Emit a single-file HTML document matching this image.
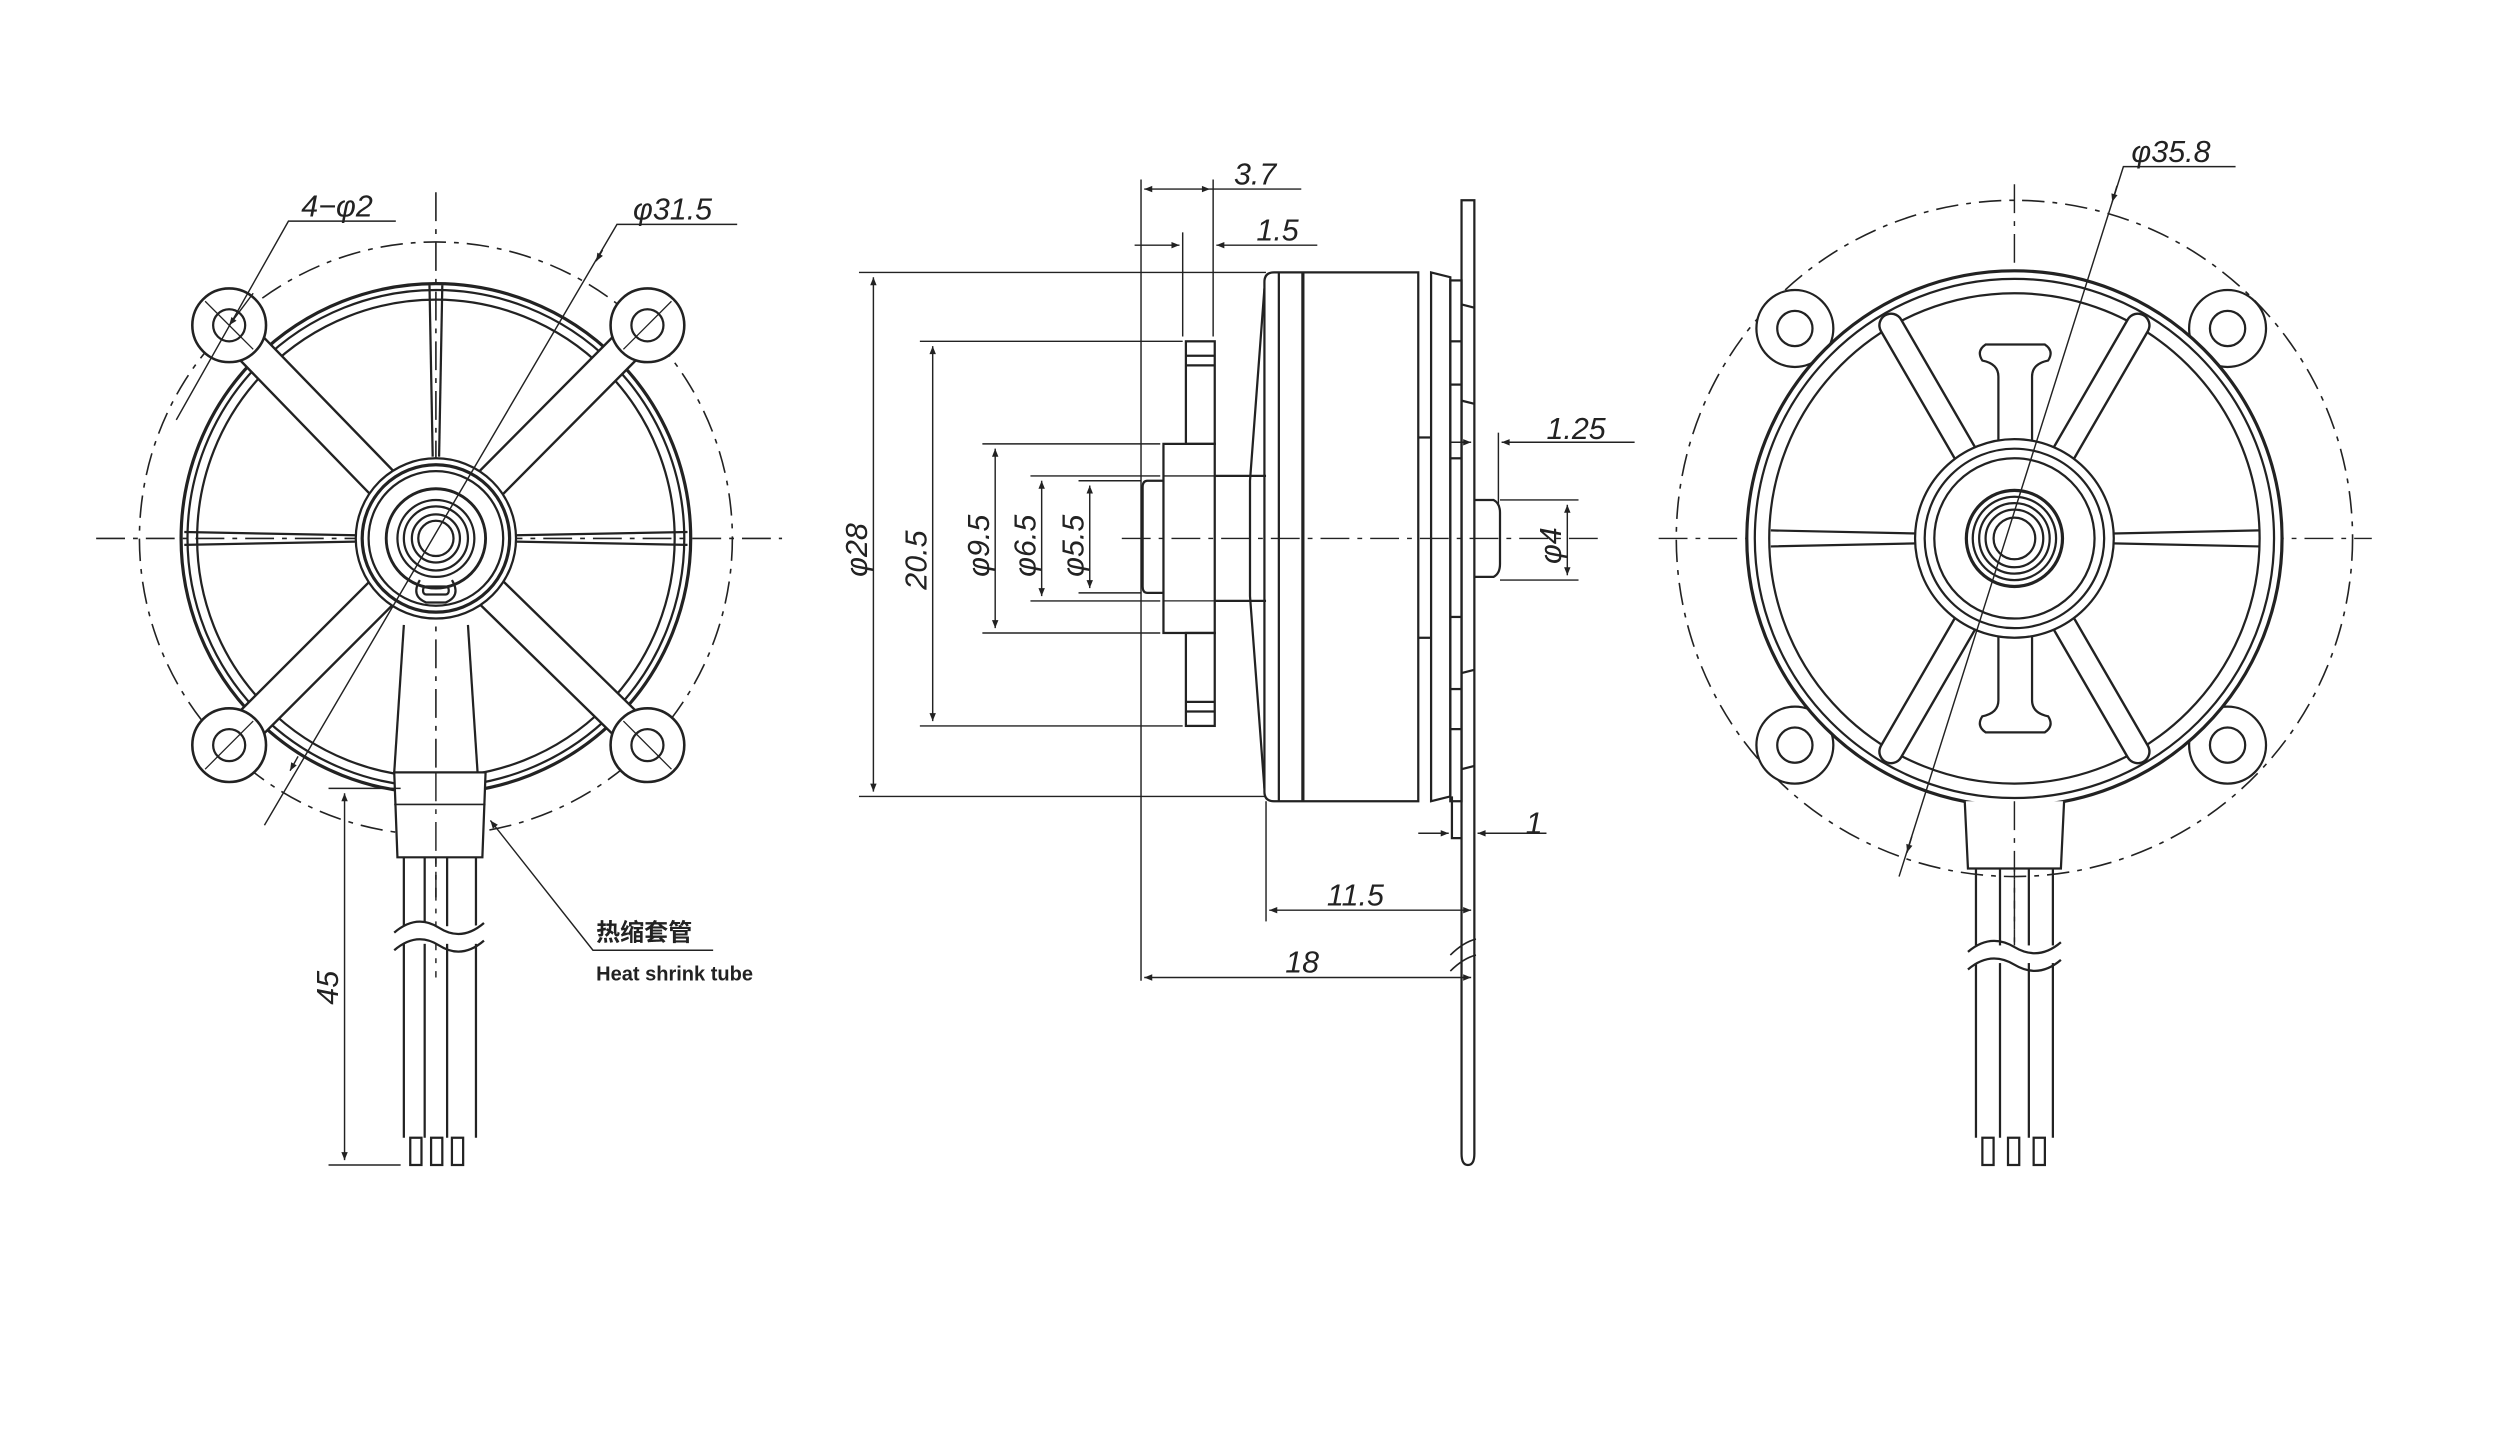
<!DOCTYPE html>
<html><head><meta charset="utf-8"><style>
html,body{margin:0;padding:0;background:#fff;}
svg{display:block;}
text{font-family:"Liberation Sans",sans-serif;font-style:italic;fill:#222;}
</style></head><body>
<svg width="2500" height="1439" viewBox="0 0 1560 898" preserveAspectRatio="none" xmlns="http://www.w3.org/2000/svg">
<defs>
<marker id="a" viewBox="0 0 10 10" refX="10" refY="5" markerWidth="9" markerHeight="5" orient="auto-start-reverse" markerUnits="userSpaceOnUse"><path d="M0,1 L10,5 L0,9z" fill="#222"/></marker>
</defs>
<g fill="none" stroke="#222" stroke-width="1.4">

<!-- ================= LEFT VIEW ================= -->
<g>
<circle cx="272" cy="336" r="185" stroke-dasharray="14 5 3 5" stroke-width="1"/>
<line x1="60" y1="336" x2="488" y2="336" stroke-dasharray="18 5 3 5" stroke-width="1"/>
<line x1="272" y1="120" x2="272" y2="560" stroke-dasharray="18 5 3 5" stroke-width="1"/>
<!-- frame ring -->
<circle cx="272" cy="336" r="159" stroke-width="2"/>
<circle cx="272" cy="336" r="155"/>
<circle cx="272" cy="336" r="149"/>
<!-- spokes (outline technique) -->
<g stroke-linecap="round">
<g stroke="#222" stroke-width="22">
<line x1="272" y1="336" x2="143" y2="203"/><line x1="272" y1="336" x2="404" y2="203"/>
<line x1="272" y1="336" x2="143" y2="465"/><line x1="272" y1="336" x2="404" y2="465"/>
</g>
<g stroke="#fff" stroke-width="19">
<line x1="272" y1="336" x2="143" y2="203"/><line x1="272" y1="336" x2="404" y2="203"/>
<line x1="272" y1="336" x2="143" y2="465"/><line x1="272" y1="336" x2="404" y2="465"/>
</g>
</g>
<!-- radial thin spokes -->
<line x1="268" y1="178" x2="270" y2="285"/><line x1="276" y1="178" x2="274" y2="285"/>
<line x1="115" y1="332" x2="222" y2="334"/><line x1="115" y1="340" x2="222" y2="338"/>
<line x1="429" y1="332" x2="322" y2="334"/><line x1="429" y1="340" x2="322" y2="338"/>
<line x1="246" y1="482" x2="252" y2="390"/><line x1="298" y1="482" x2="292" y2="390"/>
<!-- ears -->
<g fill="#fff" stroke-width="1.6">
<circle cx="143" cy="203" r="23"/><circle cx="404" cy="203" r="23"/>
<circle cx="143" cy="465" r="23"/><circle cx="404" cy="465" r="23"/>
</g>
<circle cx="143" cy="203" r="10"/><circle cx="404" cy="203" r="10"/>
<circle cx="143" cy="465" r="10"/><circle cx="404" cy="465" r="10"/>
<g stroke-width="0.8"><line x1="128" y1="188" x2="158" y2="218"/><line x1="389" y1="218" x2="419" y2="188"/><line x1="128" y1="480" x2="158" y2="450"/><line x1="389" y1="450" x2="419" y2="480"/></g>
<!-- hub -->
<circle cx="272" cy="336" r="50" fill="#fff"/>
<circle cx="272" cy="336" r="46" stroke-width="2"/>
<circle cx="272" cy="336" r="42"/>
<circle cx="272" cy="336" r="31" stroke-width="1.8"/>
<circle cx="272" cy="336" r="24"/>
<circle cx="272" cy="336" r="20"/>
<circle cx="272" cy="336" r="15"/>
<circle cx="272" cy="336" r="11"/>
<path d="M262,362 q-6,10 4,14 h12 q10,-4 4,-14" />
<rect x="264" y="366" width="16" height="5" rx="2"/>
<!-- cable tube -->
<path d="M246,482 L248,535 L301,535 L303,482 Z" fill="#fff"/>
<line x1="246" y1="502" x2="303" y2="502" stroke-width="1"/>
<line x1="272" y1="482" x2="272" y2="610" stroke-dasharray="18 5 3 5" stroke-width="0.9"/>
<!-- wires -->
<line x1="252" y1="535" x2="252" y2="710"/>
<line x1="265" y1="535" x2="265" y2="710"/>
<line x1="279" y1="535" x2="279" y2="710"/>
<line x1="297" y1="535" x2="297" y2="710"/>
<path d="M246,583 q14,-12 28,-4 t28,-2" fill="#fff" stroke="none" />
<rect x="246" y="578" width="58" height="11" fill="#fff" stroke="none"/>
<path d="M246,582 q14,-12 28,-3 t28,-3"/>
<path d="M246,593 q14,-12 28,-3 t28,-3"/>
<rect x="256" y="710" width="7" height="17"/><rect x="269" y="710" width="7" height="17"/><rect x="282" y="710" width="7" height="17"/>
<!-- 45 dim -->
<line x1="205" y1="492" x2="250" y2="492" stroke-width="0.9"/>
<line x1="205" y1="727" x2="250" y2="727" stroke-width="0.9"/>
<line x1="215" y1="495" x2="215" y2="724" stroke-width="0.9" marker-start="url(#a)" marker-end="url(#a)"/>
<!-- labels leaders -->
<polyline points="247,138 180,138 110,262" stroke-width="0.9"/>
<line x1="158" y1="183" x2="143" y2="203" stroke-width="0.9" marker-end="url(#a)"/>
<polyline points="460,140 385,140 165,515" stroke-width="0.9"/>
<line x1="376" y1="156" x2="372" y2="163" marker-end="url(#a)" stroke-width="0.9"/>
<line x1="186" y1="472" x2="181" y2="481" marker-end="url(#a)" stroke-width="0.9"/>
<polyline points="445,593 370,593 306,512" stroke-width="0.9" marker-end="url(#a)"/>
</g>
</g>

<!-- ================= MIDDLE VIEW ================= -->
<g fill="none" stroke="#222" stroke-width="1.4">
<line x1="700" y1="336" x2="1000" y2="336" stroke-dasharray="18 5 3 5" stroke-width="0.9"/>
<!-- shaft tip -->
<path d="M726,300 H716 q-3,0 -3,4 V366 q0,4 3,4 H726"/>
<!-- hub -->
<rect x="726" y="277" width="32" height="118"/>
<line x1="726" y1="297" x2="758" y2="297" stroke-width="0.8"/>
<line x1="726" y1="375" x2="758" y2="375" stroke-width="0.8"/>
<!-- flange -->
<rect x="740" y="213" width="18" height="64"/>
<rect x="740" y="395" width="18" height="58"/>
<line x1="740" y1="222" x2="758" y2="222"/><line x1="740" y1="228" x2="758" y2="228"/>
<line x1="740" y1="444" x2="758" y2="444"/><line x1="740" y1="438" x2="758" y2="438"/>
<!-- neck -->
<line x1="758" y1="297" x2="790" y2="297"/><line x1="758" y1="375" x2="790" y2="375"/>
<!-- bell -->
<path d="M795,170 H885 V500 H795 q-6,0 -6,-6 V176 q0,-6 6,-6z"/>
<path d="M789,180 L780,300 V372 L789,492"/>
<line x1="798" y1="170" x2="798" y2="500"/>
<line x1="813" y1="170" x2="813" y2="500" stroke-width="2"/>
<!-- base -->
<path d="M893,170 L905,173 V497 L893,500 Z"/>
<line x1="885" y1="273" x2="893" y2="273"/><line x1="885" y1="398" x2="893" y2="398"/>
<rect x="905" y="175" width="7" height="325"/>
<!-- mount plate -->
<path d="M912,125 H920 V720 q0,7 -4,7 q-4,0 -4,-7 Z"/>
<line x1="912" y1="190" x2="920" y2="192"/><line x1="912" y1="250" x2="920" y2="252"/>
<line x1="912" y1="420" x2="920" y2="418"/><line x1="912" y1="480" x2="920" y2="478"/>
<line x1="905" y1="213" x2="912" y2="213"/><line x1="905" y1="240" x2="912" y2="240"/>
<line x1="905" y1="286" x2="912" y2="286"/><line x1="905" y1="385" x2="912" y2="385"/>
<line x1="905" y1="430" x2="912" y2="430"/><line x1="905" y1="455" x2="912" y2="455"/>
<!-- back shaft -->
<path d="M920,312 H932 q4,2 4,8 V352 q0,6 -4,8 H920"/>
<!-- wire stub on plate -->
<path d="M906,497 V523 H912"/>
<path d="M905,596 q8,-8 16,-10 M905,606 q8,-8 16,-10" stroke-width="1"/>
<!-- dims -->
<g stroke-width="0.9">
<line x1="712" y1="112" x2="712" y2="612"/>
<line x1="757" y1="112" x2="757" y2="210"/>
<line x1="738" y1="145" x2="738" y2="210"/>
<line x1="714" y1="118" x2="755" y2="118" marker-start="url(#a)" marker-end="url(#a)"/>
<line x1="755" y1="118" x2="812" y2="118"/>
<line x1="708" y1="153" x2="736" y2="153" marker-end="url(#a)"/>
<line x1="822" y1="153" x2="759" y2="153" marker-end="url(#a)"/>
<line x1="536" y1="170" x2="790" y2="170"/><line x1="536" y1="497" x2="790" y2="497"/>
<line x1="545" y1="173" x2="545" y2="494" marker-start="url(#a)" marker-end="url(#a)"/>
<line x1="574" y1="213" x2="738" y2="213"/><line x1="574" y1="453" x2="738" y2="453"/>
<line x1="582" y1="216" x2="582" y2="450" marker-start="url(#a)" marker-end="url(#a)"/>
<line x1="613" y1="277" x2="724" y2="277"/><line x1="613" y1="395" x2="724" y2="395"/>
<line x1="621" y1="280" x2="621" y2="392" marker-start="url(#a)" marker-end="url(#a)"/>
<line x1="643" y1="297" x2="724" y2="297"/><line x1="643" y1="375" x2="724" y2="375"/>
<line x1="650" y1="300" x2="650" y2="372" marker-start="url(#a)" marker-end="url(#a)"/>
<line x1="673" y1="300" x2="712" y2="300"/><line x1="673" y1="370" x2="712" y2="370"/>
<line x1="680" y1="303" x2="680" y2="367" marker-start="url(#a)" marker-end="url(#a)"/>
<line x1="935" y1="270" x2="935" y2="315"/>
<line x1="905" y1="276" x2="918" y2="276" marker-end="url(#a)"/>
<line x1="1020" y1="276" x2="937" y2="276" marker-end="url(#a)"/>
<line x1="936" y1="312" x2="985" y2="312"/><line x1="936" y1="362" x2="985" y2="362"/>
<line x1="978" y1="315" x2="978" y2="359" marker-start="url(#a)" marker-end="url(#a)"/>
<line x1="885" y1="520" x2="904" y2="520" marker-end="url(#a)"/>
<line x1="965" y1="520" x2="922" y2="520" marker-end="url(#a)"/>
<line x1="790" y1="500" x2="790" y2="575"/>
<line x1="792" y1="568" x2="918" y2="568" marker-start="url(#a)" marker-end="url(#a)"/>
<line x1="714" y1="610" x2="918" y2="610" marker-start="url(#a)" marker-end="url(#a)"/>
</g>
</g>

<!-- ================= RIGHT VIEW ================= -->
<g fill="none" stroke="#222" stroke-width="1.4">
<circle cx="1257" cy="336" r="211" stroke-dasharray="14 5 3 5" stroke-width="1"/>
<line x1="1035" y1="336" x2="1480" y2="336" stroke-dasharray="18 5 3 5" stroke-width="0.9"/>
<line x1="1257" y1="115" x2="1257" y2="600" stroke-dasharray="18 5 3 5" stroke-width="0.9"/>
<!-- ears -->
<g fill="#fff"><circle cx="1120" cy="205" r="24"/><circle cx="1390" cy="205" r="24"/><circle cx="1120" cy="465" r="24"/><circle cx="1390" cy="465" r="24"/></g>
<circle cx="1120" cy="205" r="11"/><circle cx="1390" cy="205" r="11"/><circle cx="1120" cy="465" r="11"/><circle cx="1390" cy="465" r="11"/>
<!-- frame -->
<circle cx="1257" cy="336" r="167" fill="#fff" stroke-width="2"/>
<circle cx="1257" cy="336" r="162"/>
<circle cx="1257" cy="336" r="153"/>
<!-- spokes -->
<g stroke-linecap="round">
<g stroke="#222" stroke-width="16">
<line x1="1257" y1="336" x2="1180" y2="203"/><line x1="1257" y1="336" x2="1334" y2="203"/>
<line x1="1257" y1="336" x2="1180" y2="469"/><line x1="1257" y1="336" x2="1334" y2="469"/>
</g>
<g stroke="#fff" stroke-width="13">
<line x1="1257" y1="336" x2="1180" y2="203"/><line x1="1257" y1="336" x2="1334" y2="203"/>
<line x1="1257" y1="336" x2="1180" y2="469"/><line x1="1257" y1="336" x2="1334" y2="469"/>
</g>
</g>
<path d="M1105,331 L1200,333 M1105,341 L1200,339 M1410,331 L1315,333 M1410,341 L1315,339"/>
<!-- I beams -->
<path d="M1247,290 V235 q0,-8 -10,-10 q-4,-6 2,-10 H1276 q6,4 2,10 q-10,2 -10,10 V290 Z" fill="#fff"/>
<path d="M1247,382 V437 q0,8 -10,10 q-4,6 2,10 H1276 q6,-4 2,-10 q-10,-2 -10,-10 V382 Z" fill="#fff"/>
<!-- hub -->
<circle cx="1257" cy="336" r="62" fill="#fff"/>
<circle cx="1257" cy="336" r="56"/>
<circle cx="1257" cy="336" r="50" fill="#fff"/>
<circle cx="1257" cy="336" r="30" stroke-width="2"/>
<circle cx="1257" cy="336" r="26"/>
<circle cx="1257" cy="336" r="22"/>
<circle cx="1257" cy="336" r="18"/>
<circle cx="1257" cy="336" r="13"/>
<!-- tube -->
<path d="M1226,500 L1228,542 H1286 L1288,500" fill="#fff"/>
<line x1="1257" y1="500" x2="1257" y2="600" stroke-dasharray="18 5 3 5" stroke-width="0.9"/>
<line x1="1233" y1="542" x2="1233" y2="710"/><line x1="1248" y1="542" x2="1248" y2="710"/>
<line x1="1266" y1="542" x2="1266" y2="710"/><line x1="1281" y1="542" x2="1281" y2="710"/>
<rect x="1228" y="590" width="58" height="11" fill="#fff" stroke="none"/>
<path d="M1228,594 q14,-12 29,-3 t29,-3"/>
<path d="M1228,605 q14,-12 29,-3 t29,-3"/>
<rect x="1237" y="710" width="7" height="17"/><rect x="1253" y="710" width="7" height="17"/><rect x="1269" y="710" width="7" height="17"/>
<!-- dim -->
<polyline points="1395,104 1325,104 1185,547" stroke-width="0.9"/>
<line x1="1321" y1="116" x2="1318" y2="126" marker-end="url(#a)" stroke-width="0.9"/>
<line x1="1193" y1="522" x2="1190" y2="532" marker-end="url(#a)" stroke-width="0.9"/>
</g>

<!-- ================= TEXT ================= -->
<g font-size="19">
<text x="188" y="135">4−φ2</text>
<text x="395" y="137">φ31.5</text>
<text x="770" y="115">3.7</text>
<text x="784" y="150">1.5</text>
<text x="965" y="274">1.25</text>
<text x="952" y="520">1</text>
<text x="828" y="565">11.5</text>
<text x="802" y="607">18</text>
<text x="1330" y="101">φ35.8</text>
<text transform="translate(211,627) rotate(-90)">45</text>
<text transform="translate(541,360) rotate(-90)">φ28</text>
<text transform="translate(578,368) rotate(-90)">20.5</text>
<text transform="translate(617,360) rotate(-90)">φ9.5</text>
<text transform="translate(646,360) rotate(-90)">φ6.5</text>
<text transform="translate(676,360) rotate(-90)">φ5.5</text>
<text transform="translate(974,352) rotate(-90)">φ4</text>
</g>
<text x="372" y="587" font-size="15" font-style="normal" font-weight="bold" style="font-family:'Liberation Sans','Noto Sans CJK SC',sans-serif;font-style:normal">热缩套管</text>
<text x="372" y="612" font-size="12.5" font-weight="bold" style="font-style:normal">Heat shrink tube</text>
</svg>
</body></html>
